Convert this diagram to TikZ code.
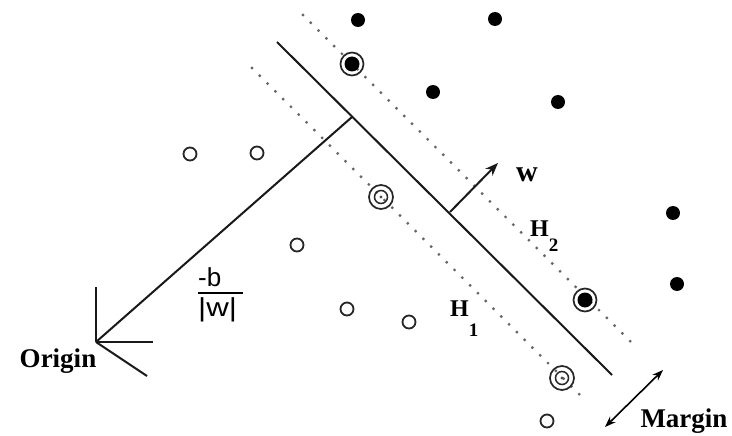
\documentclass[tikz,border=0pt]{standalone}
\usepackage{fontspec}
\setmainfont{Liberation Serif}
\newfontfamily\fracfont{Liberation Sans}
\usetikzlibrary{arrows.meta}
\begin{document}
\begin{tikzpicture}[x=1pt,y=-1pt,
  solidline/.style={line width=2pt, black!90},
  dotline/.style={line width=3.2pt, black!60, line cap=round, dash pattern=on 0pt off 11pt},
  fdot/.style={circle, fill=black, minimum size=14pt, inner sep=0pt},
  odot/.style={circle, draw=black!85, line width=1.8pt, minimum size=13pt, inner sep=0pt},
  ringf/.style={circle, draw=black!85, line width=1.7pt, minimum size=23pt, inner sep=0pt,
    path picture={\fill[black] (path picture bounding box.center) circle (7.5pt);}},
  ringo/.style={circle, draw=black!85, line width=1.7pt, minimum size=24pt, inner sep=0pt,
    path picture={\draw[black!85, line width=1.5pt] (path picture bounding box.center) circle (6.5pt);
                  \fill[black!70] (path picture bounding box.center) circle (1.6pt);}},
  lbl/.style={inner sep=0pt, font=\fontsize{27}{27}\selectfont\bfseries},
  hlbl/.style={inner sep=0pt, font=\fontsize{24}{24}\selectfont\bfseries},
  flbl/.style={inner sep=0pt, font=\fontsize{26}{26}\selectfont\fracfont},
]
\useasboundingbox[fill=white] (0,0) rectangle (732,436);

% hyperplanes
\coordinate (Ms) at (277,42);  \coordinate (Me) at (612,375);
\coordinate (Us) at (303,15);  \coordinate (Ue) at (637,348);
\coordinate (Ls) at (252,68);  \coordinate (Le) at (585,400);
\draw[solidline] (Ms) -- (Me);
\draw[dotline] (Us) -- (Ue);
\draw[dotline] (Ls) -- (Le);

% origin and perpendicular
\coordinate (O) at (96,342);
\coordinate (F) at (352,117);
\coordinate (Oy) at (96,287);
\coordinate (Ox) at (153,342);
\coordinate (Oz) at (147,376);
\draw[solidline] (O) -- (F);
\draw[solidline] (O) -- (Oy);
\draw[solidline] (O) -- (Ox);
\draw[solidline] (O) -- (Oz);

% w vector
\coordinate (Wb) at (450,212);
\coordinate (Wt) at (498,163);
\draw[solidline, -{Stealth[length=13pt,width=10pt]}] (Wb) -- (Wt);

% margin arrow
\coordinate (Ma) at (605,427);
\coordinate (Mb) at (663,370);
\draw[line width=1.6pt, {Stealth[length=11pt,width=8pt]}-{Stealth[length=11pt,width=8pt]}] (Ma) -- (Mb);

% points
\node[fdot] (f1) at (358,20) {};
\node[fdot] (f2) at (495,19) {};
\node[fdot] (f3) at (433,92) {};
\node[fdot] (f4) at (558,102) {};
\node[fdot] (f5) at (673,213) {};
\node[fdot] (f6) at (677,284) {};
\node[ringf] (s1) at (352,64) {};
\node[ringf] (s2) at (585,300) {};
\node[odot] (o1) at (190,154) {};
\node[odot] (o2) at (257,153) {};
\node[odot] (o3) at (297,245) {};
\node[odot] (o4) at (347,309) {};
\node[odot] (o5) at (409,322) {};
\node[odot] (o6) at (547,421) {};
\node[ringo] (s3) at (381,197) {};
\node[ringo] (s4) at (562,378) {};

% labels
\node[lbl, anchor=base] (origin) at (58,367) {Origin};
\node[lbl, anchor=base] (margin) at (684,427) {Margin};
\node[inner sep=0pt, anchor=base, font=\fontsize{30}{30}\selectfont\bfseries] (wl) at (527,182) {w};
\node[hlbl, anchor=base west] (h2) at (530,236) {H\raisebox{-16pt}{\fontsize{19}{19}\selectfont 2}};
\node[hlbl, anchor=base west] (h1) at (450,316) {H\raisebox{-20pt}{\fontsize{19}{19}\selectfont 1}};
\node[flbl, anchor=base west] (nb) at (198,286) {-b};
\node[flbl, anchor=base west] (nw) at (198,316) {\scalebox{1.2}[1]{|w|}};
\coordinate (B1) at (198,293);
\coordinate (B2) at (243,293);
\draw[line width=1.8pt] (B1) -- (B2);
\end{tikzpicture}
\end{document}
